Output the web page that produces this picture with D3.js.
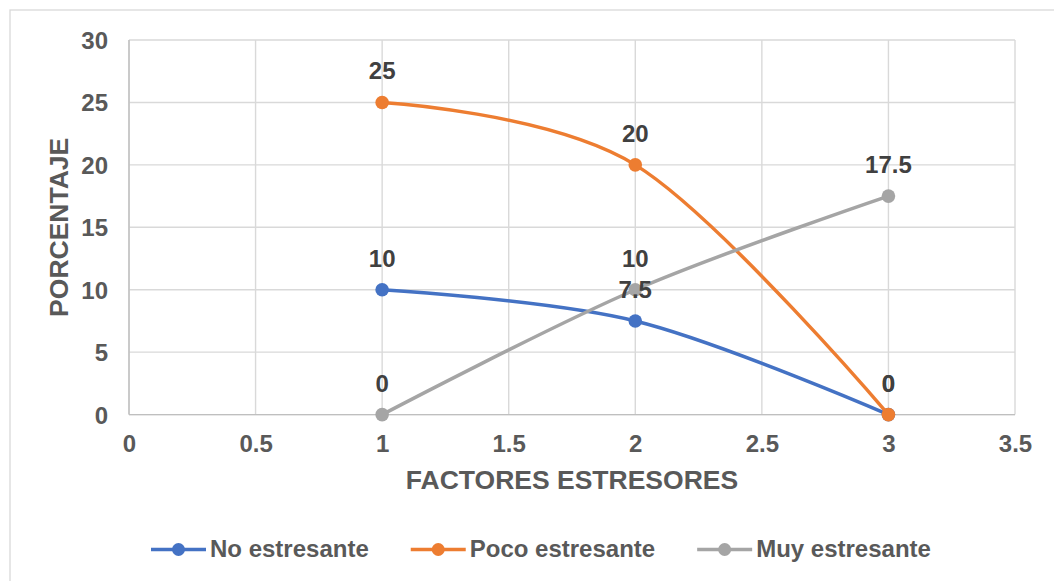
<!DOCTYPE html>
<html>
<head>
<meta charset="utf-8">
<script src="https://cdn.jsdelivr.net/npm/d3@7"></script>
<style>
  html, body { margin: 0; padding: 0; background: #ffffff; }
  svg { display: block; font-family: "Liberation Sans", Arial, sans-serif; }
</style>
</head>
<body>
<svg id="chart" width="1054" height="581"></svg>
<script>
// ---- data ----
const xValues = [1, 2, 3];
const seriesNames = ["No estresante", "Poco estresante", "Muy estresante"];
const noEstresante = [10, 7.5, 0];
const pocoEstresante = [25, 20, 0];
const muyEstresante = [0, 10, 17.5];
const xTicks = [0, 0.5, 1, 1.5, 2, 2.5, 3, 3.5];
const yTicks = [0, 5, 10, 15, 20, 25, 30];
const xTitle = "FACTORES ESTRESORES";
const yTitle = "PORCENTAJE";

const colors = ["#4472C4", "#ED7D31", "#A5A5A5"];
const seriesValues = [noEstresante, pocoEstresante, muyEstresante];

(function () {
const svg = d3.select("#chart");

// chart frame
svg.append("rect")
  .attr("x", 10).attr("y", 10).attr("width", 1070).attr("height", 600)
  .attr("fill", "#ffffff").attr("stroke", "#d9d9d9").attr("stroke-width", 1.3);

const pLeft = 129, pRight = 1015, pTop = 40, pBottom = 414.6;
const x = d3.scaleLinear().domain([0, 3.5]).range([pLeft, pRight]);
const y = d3.scaleLinear().domain([0, 30]).range([pBottom, pTop]);

// gridlines
const grid = svg.append("g");
grid.selectAll("line.h").data(yTicks).join("line").attr("class", "h")
  .attr("x1", pLeft).attr("x2", pRight)
  .attr("y1", d => y(d)).attr("y2", d => y(d))
  .attr("stroke", "#d9d9d9").attr("stroke-width", 1.4);
grid.selectAll("line.v").data(xTicks).join("line").attr("class", "v")
  .attr("y1", pTop).attr("y2", pBottom)
  .attr("x1", d => x(d)).attr("x2", d => x(d))
  .attr("stroke", "#d9d9d9").attr("stroke-width", 1.4);

// axes lines
svg.append("line").attr("x1", pLeft).attr("x2", pLeft).attr("y1", pTop).attr("y2", pBottom)
  .attr("stroke", "#bfbfbf").attr("stroke-width", 1.4);
svg.append("line").attr("x1", pLeft).attr("x2", pRight).attr("y1", pBottom).attr("y2", pBottom)
  .attr("stroke", "#bfbfbf").attr("stroke-width", 1.4);

// axes via d3 axis generators (labels only)
const yAxis = d3.axisLeft(y).tickValues(yTicks).tickSize(0).tickPadding(0).tickFormat(d3.format("~g"));
const yg = svg.append("g").attr("transform", `translate(108,0)`).call(yAxis);
yg.select(".domain").remove();
yg.selectAll("text")
  .attr("font-size", 24).attr("font-weight", "bold").attr("fill", "#595959")
  .attr("font-family", "Liberation Sans, Arial, sans-serif")
  .attr("dy", "0.35em");

const xAxis = d3.axisBottom(x).tickValues(xTicks).tickSize(0).tickPadding(0).tickFormat(d3.format("~g"));
const xg = svg.append("g").attr("transform", `translate(0,452)`).call(xAxis);
xg.select(".domain").remove();
xg.selectAll("text")
  .attr("font-size", 24).attr("font-weight", "bold").attr("fill", "#595959")
  .attr("font-family", "Liberation Sans, Arial, sans-serif")
  .attr("y", 0).attr("dy", 0);

// axis titles
svg.append("text")
  .attr("x", (pLeft + pRight) / 2).attr("y", 489)
  .attr("text-anchor", "middle")
  .attr("font-size", 26.5).attr("font-weight", "bold").attr("fill", "#595959")
  .text(xTitle);
svg.append("text")
  .attr("transform", `translate(67.5,${(pTop + pBottom) / 2}) rotate(-90)`)
  .attr("text-anchor", "middle")
  .attr("font-size", 26.5).attr("font-weight", "bold").attr("fill", "#595959")
  .text(yTitle);

// series
const line = d3.line()
  .x(d => x(d[0])).y(d => y(d[1]))
  .curve(d3.curveCardinal.tension(0));

const series = seriesValues.map((vals, i) => ({
  name: seriesNames[i],
  color: colors[i],
  points: xValues.map((xv, j) => [xv, vals[j]])
}));

const sg = svg.append("g");
series.forEach(s => {
  const g = sg.append("g");
  g.append("path")
    .attr("d", line(s.points))
    .attr("fill", "none").attr("stroke", s.color).attr("stroke-width", 3.5)
    .attr("stroke-linecap", "round");
  g.selectAll("circle").data(s.points).join("circle")
    .attr("cx", d => x(d[0])).attr("cy", d => y(d[1])).attr("r", 6.8)
    .attr("fill", s.color);
});

// data labels
const lg = svg.append("g");
series.forEach(s => {
  lg.append("g").selectAll("text").data(s.points).join("text")
    .attr("x", d => x(d[0])).attr("y", d => y(d[1]) - 23)
    .attr("text-anchor", "middle")
    .attr("font-size", 24).attr("font-weight", "bold").attr("fill", "#404040")
    .text(d => d3.format("~g")(d[1]));
});

// legend
const legend = svg.append("g");
let lx = 151;
series.forEach(s => {
  const g = legend.append("g");
  g.append("line").attr("x1", lx).attr("x2", lx + 55).attr("y1", 549.5).attr("y2", 549.5)
    .attr("stroke", s.color).attr("stroke-width", 3.5);
  g.append("circle").attr("cx", lx + 27.5).attr("cy", 549.5).attr("r", 6.5).attr("fill", s.color);
  const t = g.append("text").attr("x", lx + 59).attr("y", 557)
    .attr("font-size", 24).attr("font-weight", "bold").attr("fill", "#595959")
    .text(s.name);
  const w = t.node().getComputedTextLength();
  lx = lx + 59 + w + 42;
});
})();
</script>
</body>
</html>
